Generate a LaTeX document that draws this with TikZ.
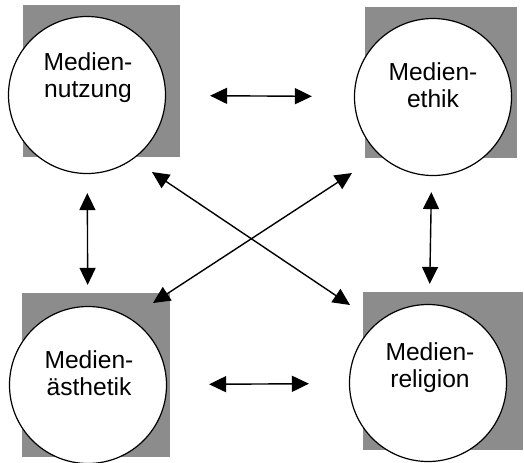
\documentclass[tikz,border=0pt]{standalone}
\usepackage{fontspec}
\setmainfont{Liberation Sans}
\usetikzlibrary{arrows.meta,positioning}

\begin{document}
\begin{tikzpicture}[x=0.5pt, y=-0.5pt,
	feld/.style={fill=black!45},
	kreis/.style={circle, draw, fill=white, line width=0.6pt, inner sep=0pt, minimum size=78.5pt},
	titel/.style={align=center, font=\fontsize{12.3}{13.5}\selectfont, inner sep=0pt, anchor=north},
	pfeil/.style={{Triangle[length=8.5pt,width=8pt]}-{Triangle[length=8.5pt,width=8pt]}, line width=0.7pt}]
	\useasboundingbox (0,0) rectangle (524,462);

	% graue Felder
	\fill[feld] (23,5) rectangle (180,157);
	\fill[feld] (365,7) rectangle (517,158);
	\fill[feld] (22,293) rectangle (170,457);
	\fill[feld] (363,292) rectangle (523,450);

	\node [kreis] (nutzung) at (87,95) {};
	\node [kreis] (ethik) at (433,97) {};
	\node [kreis] (aesthetik) at (88,385) {};
	\node [kreis] (religion) at (428,383) {};

	\node [titel] (nutzung text) at (88,52) {Medien-\\nutzung};
	\node [titel] (ethik text) at (433,62) {Medien-\\ethik};
	\node [titel] (aesthetik text) at (89,350) {Medien-\\ästhetik};
	\node [titel] (religion text) at (430,342) {Medien-\\religion};

	\coordinate (nw) at (152,172);
	\coordinate (se) at (350,305);
	\coordinate (ne) at (352,173);
	\coordinate (sw) at (153,303);

	\path[pfeil]
		(nutzung) edge [shorten <=22pt, shorten >=21pt] (ethik)
		(aesthetik) edge [shorten <=21pt, shorten >=20pt] (religion)
		(nutzung) edge [shorten <=9.5pt, shorten >=10.5pt] (aesthetik)
		(ethik) edge [shorten <=8pt, shorten >=10pt] (religion)
		(nw) edge (se)
		(ne) edge (sw)
		;

\end{tikzpicture}
\end{document}
